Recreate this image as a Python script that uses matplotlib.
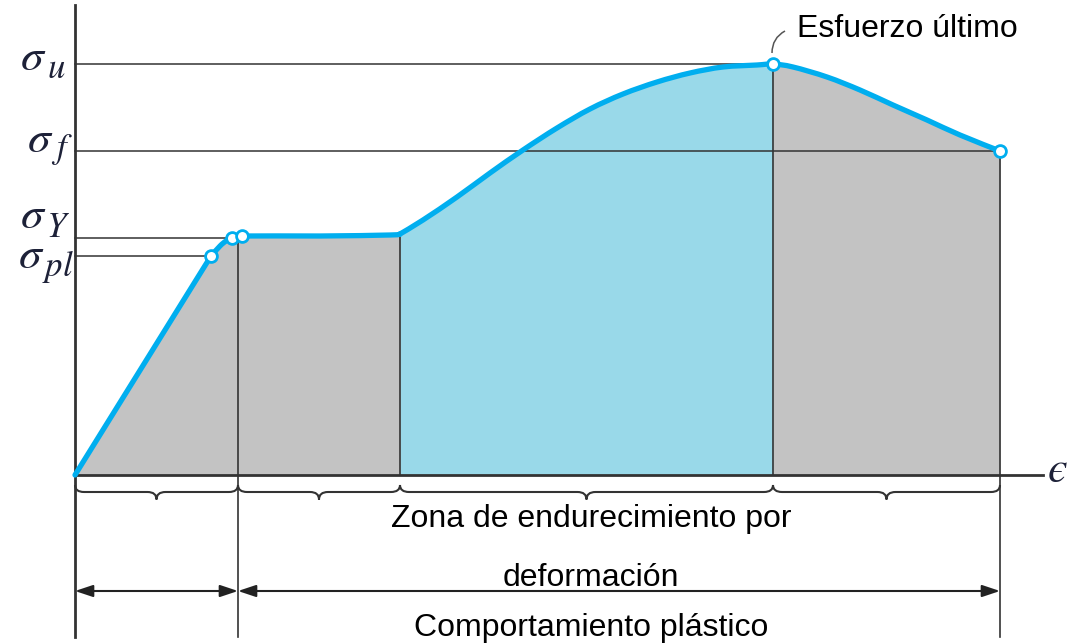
import matplotlib.pyplot as plt
import numpy as np
from matplotlib.path import Path
from matplotlib.patches import PathPatch

plt.rcParams['font.family'] = ['Liberation Sans', 'DejaVu Sans']
plt.rcParams['mathtext.fontset'] = 'stix'

# curva esfuerzo-deformación (unidades arbitrarias)
eps = [0.0, 1.36, 1.45, 1.51, 1.57, 1.67, 2.45, 3.15, 3.25, 3.48, 3.82, 4.15,
       4.48, 4.82, 5.15, 5.48, 5.82, 6.15, 6.48, 6.82, 6.98, 7.18, 7.52,
       7.85, 8.18, 8.52, 8.85, 9.25]
sig = [0.0, 2.19, 2.29, 2.34, 2.37, 2.39, 2.39, 2.40, 2.41, 2.55, 2.78, 3.02,
       3.25, 3.47, 3.66, 3.81, 3.93, 4.02, 4.08, 4.10, 4.11, 4.08, 3.98,
       3.85, 3.70, 3.55, 3.40, 3.24]

# puntos notables
pt_eps = [1.36, 1.57, 1.67, 6.98, 9.25]
pt_sig = [2.19, 2.37, 2.39, 4.11, 3.24]

# niveles de esfuerzo
lvl_sub = ['u', 'f', 'Y', 'pl']
lvl_sig = [4.11, 3.24, 2.37, 2.19]
lvl_eps = [6.98, 9.25, 1.57, 1.36]

# límites de zonas
bounds = [0.0, 1.63, 3.25, 6.98, 9.25]
bound_top = [4.70, 2.38, 2.41, 4.11, 3.24]

eps = np.array(eps)
sig = np.array(sig)

fig = plt.figure(figsize=(10.79, 6.43), dpi=100)
ax = fig.add_axes([0, 0, 1, 1])
ax.set_xlim(-0.75, 10.04)
ax.set_ylim(-1.68, 4.75)
ax.axis('off')

gris = '#c3c3c3'
azul_claro = '#99d9e9'
azul = '#00aeef'
linea = '#333333'
tinta = '#1d2138'

# rellenos
ax.fill_between(eps, 0, sig, where=eps <= bounds[2], color=gris, lw=0, zorder=1)
ax.fill_between(eps, 0, sig, where=(eps >= bounds[2]) & (eps <= bounds[3]),
                color=azul_claro, lw=0, zorder=1)
ax.fill_between(eps, 0, sig, where=eps >= bounds[3], color=gris, lw=0, zorder=1)

# ejes
ax.plot([0, 0], [-1.62, 4.70], color=linea, lw=2, zorder=3)
ax.plot([0, 9.68], [0, 0], color=linea, lw=2, zorder=3)

# líneas de nivel y etiquetas (sigma + subíndice)
sig_pos = [(-0.55, 4.05), (-0.48, 3.23), (-0.55, 2.47), (-0.57, 2.07)]
sub_pos = [(-0.28, 3.97), (-0.24, 3.17), (-0.29, 2.38), (-0.33, 1.99)]
for sub, s, e, p, q in zip(lvl_sub, lvl_sig, lvl_eps, sig_pos, sub_pos):
    ax.plot([0, e], [s, s], color=linea, lw=1.1, zorder=2)
    ax.text(p[0], p[1], r'$\sigma$', fontsize=33, color=tinta, ha='left',
            va='baseline')
    ax.text(q[0], q[1], r'$%s$' % sub, fontsize=25, color=tinta, ha='left',
            va='baseline')

# líneas verticales
for i, (b, t) in enumerate(zip(bounds, bound_top)):
    if i == 0:
        continue
    bottom = -1.62 if i in (1, 4) else 0
    ax.plot([b, b], [bottom, t], color=linea, lw=1.2, zorder=2)


# curva suavizada (Catmull-Rom por tramos)
def tramo_suave(x, y):
    p = np.column_stack([x, y])
    ext = np.vstack([p[0], p, p[-1]])
    verts = [tuple(p[0])]
    codes = [Path.MOVETO]
    for i in range(1, len(ext) - 2):
        c1 = ext[i] + (ext[i + 1] - ext[i - 1]) / 6
        c2 = ext[i + 1] - (ext[i + 2] - ext[i]) / 6
        verts += [tuple(c1), tuple(c2), tuple(ext[i + 1])]
        codes += [Path.CURVE4] * 3
    return verts, codes


cortes = [0, 1, 8, len(eps) - 1]
for a, b in zip(cortes[:-1], cortes[1:]):
    v, c = tramo_suave(eps[a:b + 1], sig[a:b + 1])
    ax.add_patch(PathPatch(Path(v, c), fill=False, ec=azul, lw=3.8,
                           capstyle='round', joinstyle='round', zorder=4))
ax.plot(pt_eps, pt_sig, 'o', ms=8.5, mfc='white', mec=azul, mew=2, zorder=5)


# llaves
def llave(x0, x1, yt=-0.10, ym=-0.17, yp=-0.245, r=0.09):
    xm = (x0 + x1) / 2
    v = [(x0, yt), (x0, ym), (x0 + r, ym), (xm - r, ym), (xm, ym), (xm, yp),
         (xm, ym), (xm + r, ym), (x1 - r, ym), (x1, ym), (x1, yt)]
    c = [Path.MOVETO, Path.CURVE3, Path.CURVE3, Path.LINETO, Path.CURVE3,
         Path.CURVE3, Path.CURVE3, Path.CURVE3, Path.LINETO, Path.CURVE3,
         Path.CURVE3]
    ax.add_patch(PathPatch(Path(v, c), fill=False, ec=linea, lw=1.5, zorder=3))


for a, b in zip(bounds[:-1], bounds[1:]):
    llave(a, b)

# flechas
flecha = dict(arrowstyle='<|-|>,head_length=0.6,head_width=0.2',
              color='#222222', lw=1.5, shrinkA=0, shrinkB=0, mutation_scale=18)
ax.annotate('', xy=(bounds[0], -1.16), xytext=(bounds[1], -1.16),
            arrowprops=flecha)
ax.annotate('', xy=(bounds[1], -1.16), xytext=(bounds[4], -1.16),
            arrowprops=flecha)

# textos
ax.text(5.16, -0.52, 'Zona de endurecimiento por', fontsize=23, ha='center',
        va='baseline')
ax.text(5.16, -1.11, 'deformación', fontsize=23, ha='center', va='baseline')
ax.text(5.16, -1.61, 'Comportamiento plástico', fontsize=23, ha='center',
        va='baseline')
ax.text(7.22, 4.38, 'Esfuerzo último', fontsize=23, ha='left', va='baseline')
ax.text(9.72, 0.04, '$ϵ$', fontsize=32, color=tinta, ha='left', va='center')

# guía hacia el esfuerzo último
guia = Path([(6.97, 4.22), (6.97, 4.37), (7.10, 4.44)],
            [Path.MOVETO, Path.CURVE3, Path.CURVE3])
ax.add_patch(PathPatch(guia, fill=False, ec='#555555', lw=1.1, zorder=3))

fig.savefig('out.png', dpi=100)
